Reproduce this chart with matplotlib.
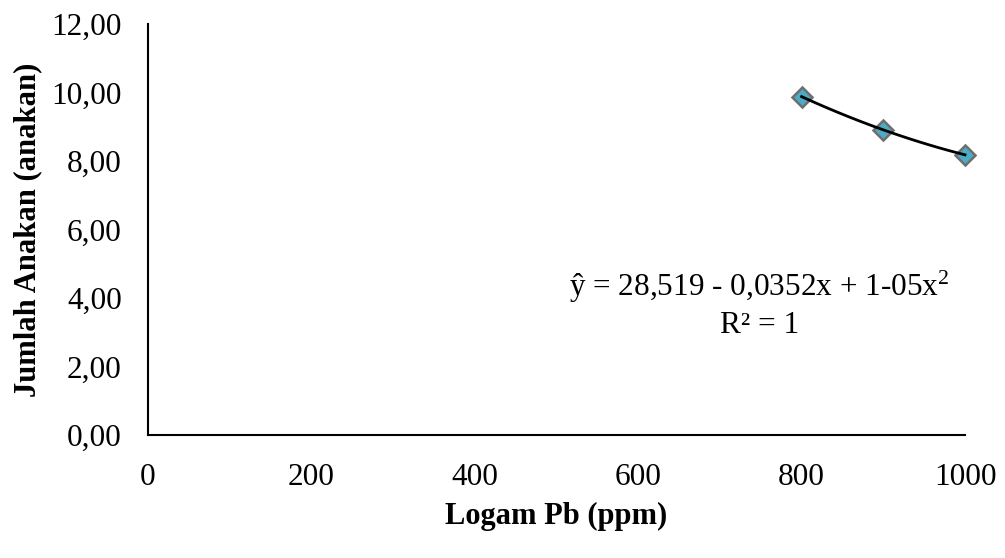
import matplotlib.pyplot as plt
import numpy as np

plt.rcParams['font.family'] = ['Liberation Serif', 'DejaVu Serif']
plt.rcParams['mathtext.fontset'] = 'custom'
plt.rcParams['mathtext.rm'] = 'Liberation Serif'
plt.rcParams['mathtext.it'] = 'Liberation Serif:italic'

# data
pb = [800, 900, 1000]
anakan = [9.88, 8.91, 8.18]

xticks = [0, 200, 400, 600, 800, 1000]
yticks = [0, 2, 4, 6, 8, 10, 12]

# polynomial trendline (order 2)
coef = np.polyfit(pb, anakan, 2)
xs = np.linspace(pb[0], pb[-1], 100)
ys = np.polyval(coef, xs)

fig = plt.figure(figsize=(10.05, 5.58), dpi=100)
ax = fig.add_axes([0.1473, 0.2204, 0.8129, 0.7366])

ax.plot(pb, anakan, "D", markersize=10, markerfacecolor="#4BACC6",
        markeredgecolor="#6E6E6E", markeredgewidth=1.8, zorder=3, clip_on=False)
ax.plot(xs, ys, color="black", linewidth=2, zorder=4, clip_on=False)

ax.set_xlim(0, 1000)
ax.set_ylim(0, 12)
ax.set_xticks(xticks)
ax.set_yticks(yticks)
ax.set_yticklabels(["{:.2f}".format(v).replace(".", ",") for v in yticks])
ax.tick_params(axis="x", length=0, labelsize=22.5, pad=20)
ax.tick_params(axis="y", length=0, labelsize=22.5, pad=19)

for s in ["top", "right"]:
    ax.spines[s].set_visible(False)
for s in ["left", "bottom"]:
    ax.spines[s].set_linewidth(1.5)

ax.set_xlabel("Logam Pb (ppm)", fontsize=22, fontweight="bold")
ax.set_ylabel("Jumlah Anakan (anakan)", fontsize=22, fontweight="bold")
ax.xaxis.set_label_coords(0.5, -0.197)
ax.yaxis.set_label_coords(-0.147, 0.5)
ax.xaxis.label.set_va("center")
ax.yaxis.label.set_va("center")

ax.text(748, 3.82, "ŷ = 28,519 - 0,0352x + 1-05x$^{2}$\nR² = 1", fontsize=22.5,
        ha="center", va="center", linespacing=1.25)

fig.savefig("out.png", dpi=100)
